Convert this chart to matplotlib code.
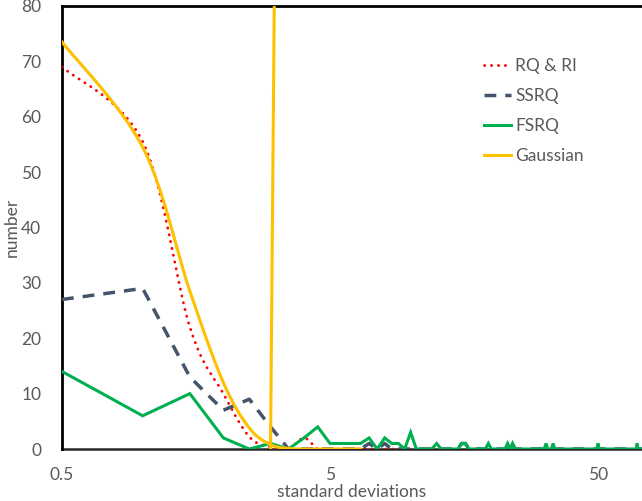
import numpy as np
import matplotlib
matplotlib.use("Agg")
import matplotlib.pyplot as plt

plt.rcParams['font.family'] = ['Lato', 'DejaVu Sans']

# bin centres (in standard deviations) and counts per population
rq_x = [0.5, 1.0, 1.5, 2.0, 2.5, 3.0, 3.5, 4.0, 4.5, 5.0, 6.0, 8.0, 10.0]
rq_y = [69, 55.5, 22, 10, 2.2, 0.4, 0, 2, 0, 0, 0, 0, 0]

ssrq_x = [0.5, 1.0, 1.5, 2.0, 2.5, 3.0, 3.5, 6.5, 7.0, 7.5, 8.0, 8.5,
          15.0, 15.5, 16.0, 16.5, 23.5, 24.0, 24.5, 80.0]
ssrq_y = [27, 29, 13, 7, 9, 4, 0, 0, 1, 0, 1, 0,
          0, 1, 1, 0, 0, 1, 0, 0]

fsrq_x = [0.5, 1.0, 1.5, 2.0, 2.5, 3.0, 3.5, 4.0, 4.5, 5.0, 5.5, 6.0, 6.5,
          7.0, 7.5, 8.0, 8.5, 9.0, 9.5, 10.0, 10.5, 12.0, 12.5, 13.0,
          15.0, 15.5, 16.0, 16.5, 19.0, 19.5, 20.0, 22.5, 23.0, 23.5,
          24.0, 24.5, 31.5, 32.0, 32.5, 33.5, 34.0, 34.5, 49.5, 50.0,
          50.5, 69.5, 70.0, 70.5, 80.0]
fsrq_y = [14, 6, 10, 2, 0, 1, 0, 2, 4, 1, 1, 1, 1,
          2, 0, 2, 1, 1, 0, 3, 0, 0, 1, 0,
          0, 1, 1, 0, 0, 1, 0, 0, 1, 0,
          1, 0, 0, 1, 0, 0, 1, 0, 0, 1,
          0, 0, 1, 0, 0]

gauss_x = [0.5, 1.0, 1.5, 2.0, 2.5, 3.0, 3.5, 4.0, 4.5, 5.0, 5.5, 6.0, 6.5]
gauss_y = [73.5, 54.5, 28.5, 12.0, 3.8, 0.8, 0.1, 0, 0, 0, 0, 0, 0]

# vertical marker drawn in the Gaussian colour
marker_x = [3.0, 3.1]
marker_y = [0, 82]

x_ticks = [0.5, 5, 50]
x_ticklabels = ["0.5", "5", "50"]
y_ticks = [0, 10, 20, 30, 40, 50, 60, 70, 80]


def smooth(xs, ys, n=24):
    """Bezier smoothing through the points (in log-x space)."""
    P = np.column_stack([np.log10(xs), ys]).astype(float)
    segs = []
    for i in range(len(P) - 1):
        p0 = P[i - 1] if i > 0 else P[i]
        p1, p2 = P[i], P[i + 1]
        p3 = P[i + 2] if i + 2 < len(P) else P[i + 1]
        c1 = p1 + (p2 - p0) / 6.0
        c2 = p2 - (p3 - p1) / 6.0
        t = np.linspace(0, 1, n)[:, None]
        seg = ((1 - t) ** 3) * p1 + 3 * ((1 - t) ** 2) * t * c1 \
            + 3 * (1 - t) * t ** 2 * c2 + t ** 3 * p2
        segs.append(seg if i == 0 else seg[1:])
    arr = np.vstack(segs)
    return 10 ** arr[:, 0], arr[:, 1]


fig = plt.figure(figsize=(6.42, 5.01), dpi=100)
ax = fig.add_axes([62 / 642, 1 - 449 / 501, 1 - 62 / 642, (449 - 6) / 501])

RED = "#FF0000"
SLATE = "#44546A"
GREEN = "#00B050"
GOLD = "#FFC000"

sx, sy = smooth(rq_x, rq_y)
ax.plot(sx, sy, color=RED, lw=2.0, linestyle=(0, (0.1, 2.4)),
        dash_capstyle='round', label="RQ & RI", zorder=3)
ax.plot(ssrq_x, ssrq_y, color=SLATE, lw=2.5, linestyle=(0, (3.4, 2.6)),
        dash_capstyle='butt', label="SSRQ", zorder=3)
ax.plot(fsrq_x, fsrq_y, color=GREEN, lw=2.2, label="FSRQ", zorder=3,
        solid_joinstyle='miter')
gx, gy = smooth(gauss_x, gauss_y)
ax.plot(gx, gy, color=GOLD, lw=2.2, label="Gaussian", zorder=3)
ax.plot(marker_x, marker_y, color=GOLD, lw=2.2, zorder=3)

ax.set_xscale('log')
ax.set_xlim(0.5, 73)
ax.set_ylim(0, 80)
ax.set_xticks(x_ticks)
ax.set_xticklabels(x_ticklabels)
ax.xaxis.set_minor_locator(matplotlib.ticker.NullLocator())
ax.set_yticks(y_ticks)

ax.tick_params(axis='both', length=0, labelsize=12.5, labelcolor="#595959")
ax.tick_params(axis='x', pad=13)
ax.tick_params(axis='y', pad=15)

for s in ("left", "top"):
    ax.spines[s].set_color("black")
    ax.spines[s].set_linewidth(2)
ax.spines["bottom"].set_color("#262626")
ax.spines["bottom"].set_linewidth(1.8)
ax.spines["bottom"].set_zorder(1)
ax.spines["right"].set_visible(False)

ax.set_xlabel("standard deviations", fontsize=12.5, color="#595959", labelpad=1)
ax.set_ylabel("number", fontsize=12.5, color="#595959", labelpad=1)

leg = ax.legend(loc="upper left", bbox_to_anchor=(406 / 580, 0.918),
                frameon=False, fontsize=12.5, handlelength=1.6,
                handletextpad=0.22, labelspacing=0.8, labelcolor="#595959")

fig.savefig("out.png", dpi=100)
